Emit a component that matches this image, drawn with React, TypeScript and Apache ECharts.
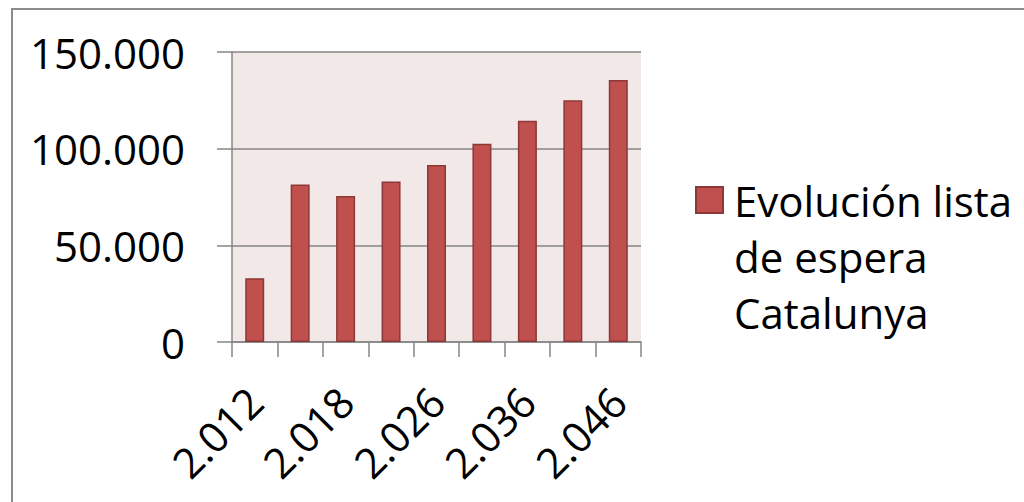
import React, { useEffect, useRef } from "react";
import * as echarts from "echarts";

const categories = ["2.012", "2.015", "2.018", "2.022", "2.026", "2.031", "2.036", "2.041", "2.046"];
const values = [33000, 81500, 75500, 83000, 91500, 102500, 114500, 125000, 135500];
const seriesName = "Evolución lista de espera Catalunya";
const legendLabel = "\n\nEvolución lista\nde espera\nCatalunya";
const yTicks = { min: 0, max: 150000, interval: 50000 };

const fmt = (v: number) => String(Math.round(v)).replace(/\B(?=(\d{3})+(?!\d))/g, ".");

export default function App() {
  const ref = useRef<HTMLDivElement>(null);
  useEffect(() => {
    if (!ref.current) return;
    const chart = echarts.init(ref.current, undefined, { renderer: "svg" });
    const font = "'Open Sans', 'Noto Sans', sans-serif";
    chart.setOption({
      animation: false,
      backgroundColor: "#ffffff",
      graphic: [
        {
          type: "rect",
          shape: { x: 12, y: 9, width: 1100, height: 600 },
          style: { fill: "none", stroke: "#8c8c8c", lineWidth: 2 },
          silent: true,
        },
      ],
      grid: { left: 232, right: 383, top: 52, bottom: 160, show: true, backgroundColor: "#F2E8E8", borderWidth: 0 },
      legend: {
        left: 690,
        top: 55,
        orient: "vertical",
        itemWidth: 27,
        itemHeight: 26,
        icon: "rect",
        formatter: () => legendLabel,
        textStyle: { fontFamily: font, fontSize: 42, color: "#000", lineHeight: 56, padding: [0, 0, 0, 6] },
      },
      xAxis: {
        type: "category",
        data: categories,
        boundaryGap: true,
        axisLine: { lineStyle: { color: "#868686", width: 1.5 } },
        axisTick: { show: true, alignWithLabel: false, interval: 0, length: 15, lineStyle: { color: "#868686", width: 1.5 } },
        axisLabel: { interval: 1, rotate: 45, margin: 52, fontFamily: font, fontSize: 42, color: "#000" },
        splitLine: { show: false },
      },
      yAxis: {
        type: "value",
        min: yTicks.min,
        max: yTicks.max,
        interval: yTicks.interval,
        axisLine: { show: true, lineStyle: { color: "#868686", width: 1.5 } },
        axisTick: { show: true, length: 15, lineStyle: { color: "#868686", width: 1.5 } },
        axisLabel: { margin: 47, fontFamily: font, fontSize: 42, color: "#000", formatter: (v: number) => fmt(v) },
        splitLine: { show: true, lineStyle: { color: "#868686", width: 1.5 } },
      },
      series: [
        {
          name: seriesName,
          type: "bar",
          data: values,
          barWidth: 19,
          itemStyle: { color: "#C0504D", borderColor: "#8C3836", borderWidth: 1.5 },
        },
      ],
    });
    return () => chart.dispose();
  }, []);
  return <div ref={ref} style={{ position: "fixed", left: 0, top: 0, width: 1024, height: 502 }} />;
}
